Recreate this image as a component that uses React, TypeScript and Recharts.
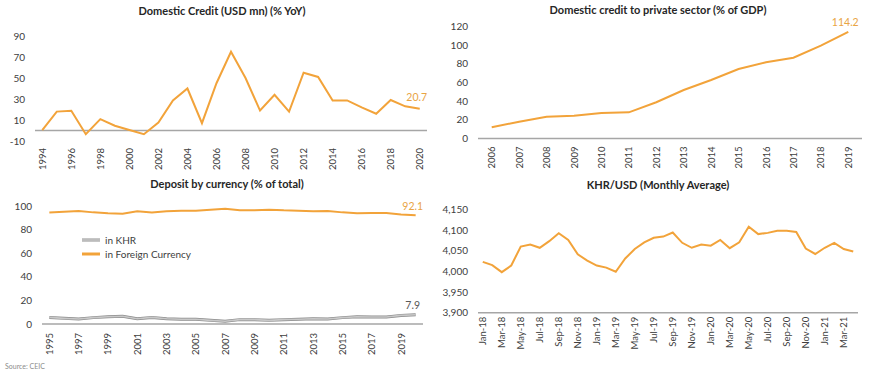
import React from 'react'
import {
  LineChart,
  Line,
  XAxis,
  YAxis,
  ReferenceLine,
  Legend,
} from 'recharts'

const ORANGE = '#F2A33A'
const ORANGE_LABEL = '#E9A443'
const GREY_AXIS = '#A6A6A6'
const TEXT = '#404040'
const FONT = 'Lato, "Open Sans", sans-serif'

// Domestic Credit (USD mn) (% YoY)
const creditYears = [
  '1994', '1995', '1996', '1997', '1998', '1999', '2000', '2001', '2002',
  '2003', '2004', '2005', '2006', '2007', '2008', '2009', '2010', '2011',
  '2012', '2013', '2014', '2015', '2016', '2017', '2018', '2019', '2020',
]
const creditYoY = [
  0.3, 18, 18.8, -3.5, 10.8, 4.5, 0.5, -3.5, 7.6, 28.6, 40, 7, 45, 75, 50,
  19, 34, 18, 55, 51, 28.6, 28.6, 22, 16, 29, 23, 20.7,
]
const creditTicks = [-10, 10, 30, 50, 70, 90]

// Domestic credit to private sector (% of GDP)
const privYears = [
  '2006', '2007', '2008', '2009', '2010', '2011', '2012', '2013', '2014',
  '2015', '2016', '2017', '2018', '2019',
]
const privCredit = [
  12, 18, 23.4, 24.5, 27.3, 28, 38.8, 52, 62.7, 74.5, 81.6, 86.6, 99.5, 114.2,
]
const privTicks = [0, 20, 40, 60, 80, 100, 120]

// Deposit by currency (% of total)
const depYears = [
  '1995', '1996', '1997', '1998', '1999', '2000', '2001', '2002', '2003',
  '2004', '2005', '2006', '2007', '2008', '2009', '2010', '2011', '2012',
  '2013', '2014', '2015', '2016', '2017', '2018', '2019', '2020',
]
const depForeign = [
  94.4, 95.2, 95.8, 94.6, 93.8, 93.5, 95.5, 94.4, 95.5, 96, 96, 96.9, 97.7,
  96.3, 96.3, 96.9, 96.3, 96, 95.5, 95.8, 94.6, 93.8, 94.1, 94.1, 92.7, 92.1,
]
const depKhr = [
  5.6, 4.8, 4.2, 5.4, 6.2, 6.5, 4.5, 5.6, 4.5, 4, 4, 3.1, 2.3, 3.7, 3.7, 3.1,
  3.7, 4, 4.5, 4.2, 5.4, 6.2, 5.9, 5.9, 7.3, 7.9,
]
const depTicks = [0, 20, 40, 60, 80, 100]

// KHR/USD (Monthly Average)
const fxMonths = [
  'Jan-18', 'Feb-18', 'Mar-18', 'Apr-18', 'May-18', 'Jun-18', 'Jul-18', 'Aug-18',
  'Sep-18', 'Oct-18', 'Nov-18', 'Dec-18', 'Jan-19', 'Feb-19', 'Mar-19', 'Apr-19',
  'May-19', 'Jun-19', 'Jul-19', 'Aug-19', 'Sep-19', 'Oct-19', 'Nov-19', 'Dec-19',
  'Jan-20', 'Feb-20', 'Mar-20', 'Apr-20', 'May-20', 'Jun-20', 'Jul-20', 'Aug-20',
  'Sep-20', 'Oct-20', 'Nov-20', 'Dec-20', 'Jan-21', 'Feb-21', 'Mar-21', 'Apr-21',
]
const fxRate = [
  4023, 4015, 3998, 4014, 4060, 4065, 4057, 4073, 4092, 4076, 4041, 4026,
  4014, 4009, 3999, 4031, 4054, 4070, 4081, 4084, 4094, 4069, 4057, 4065,
  4062, 4076, 4056, 4070, 4108, 4090, 4093, 4098, 4098, 4095, 4055, 4042,
  4057, 4069, 4054, 4048,
]
const fxTicks = [3900, 3950, 4000, 4050, 4100, 4150]

const creditData = creditYears.map((year, i) => ({ year, v: creditYoY[i] }))
const privData = privYears.map((year, i) => ({ year, v: privCredit[i] }))
const depData = depYears.map((year, i) => ({
  year,
  khr: depKhr[i],
  fx: depForeign[i],
}))
const fxData = fxMonths.map((m, i) => ({ m, v: fxRate[i] }))

function RotTick(props: any) {
  const { x, y, payload } = props
  return (
    <text
      x={x}
      y={y}
      transform={`rotate(-90, ${x}, ${y})`}
      textAnchor="end"
      dominantBaseline="central"
      fontSize={9.5}
      fill={TEXT}
    >
      {payload.value}
    </text>
  )
}

// label only on the last point of a series
function lastLabel(count: number, color: string, dy = -7) {
  return (props: any) => {
    const { x, y, index, value } = props
    if (index !== count - 1) return null
    return (
      <text
        key="last"
        x={x - 3}
        y={y + dy}
        textAnchor="middle"
        fontSize={10.5}
        fill={color}
      >
        {Number(value).toFixed(1)}
      </text>
    )
  }
}

function Title({ text, x, y }: { text: string; x: number; y: number }) {
  return (
    <div
      style={{
        position: 'absolute',
        left: x - 200,
        top: y - 8,
        width: 400,
        textAlign: 'center',
        fontSize: 11,
        fontWeight: 700,
        color: '#262626',
        lineHeight: '16px',
      }}
    >
      {text}
    </div>
  )
}

function DepositLegend() {
  const items = [
    { name: 'in KHR', color: '#C8C8C8', edge: '#8C8C8C' },
    { name: 'in Foreign Currency', color: ORANGE, edge: ORANGE },
  ]
  return (
    <div style={{ position: 'absolute', left: 82, top: -7 }}>
      {items.map((it) => (
        <div
          key={it.name}
          style={{
            display: 'flex',
            alignItems: 'center',
            height: 14,
            lineHeight: '14px',
            fontSize: 10,
            color: TEXT,
          }}
        >
          <svg width={20} height={6} style={{ marginRight: 3 }}>
            <line x1={0} y1={3} x2={18} y2={3} stroke={it.edge} strokeWidth={3} />
            <line x1={0} y1={3} x2={18} y2={3} stroke={it.color} strokeWidth={1.6} />
          </svg>
          {it.name}
        </div>
      ))}
    </div>
  )
}

const yTick = { fontSize: 10, fill: TEXT }

export default function App() {
  return (
    <div
      style={{
        position: 'absolute',
        left: 0,
        top: 0,
        width: 870,
        height: 378,
        background: '#fff',
        fontFamily: FONT,
      }}
    >
      <div style={{ position: 'absolute', left: 0, top: 0 }}>
        <LineChart
          width={435}
          height={180}
          data={creditData}
          margin={{ top: 36, right: 8, left: 0, bottom: 0 }}
        >
          <XAxis
            dataKey="year"
            scale="band"
            interval={1}
            axisLine={false}
            tickLine={false}
            tickSize={0}
            tickMargin={7}
            height={39}
            tick={<RotTick />}
          />
          <YAxis
            domain={[-10, 90]}
            ticks={creditTicks}
            width={35}
            axisLine={false}
            tickLine={false}
            tickSize={0}
            tickMargin={10}
            tick={yTick}
          />
          <ReferenceLine y={0} stroke={GREY_AXIS} strokeWidth={1.5} />
          <Line
            dataKey="v"
            stroke={ORANGE}
            strokeWidth={2}
            dot={false}
            isAnimationActive={false}
            label={lastLabel(creditData.length, ORANGE_LABEL, -8)}
          />
        </LineChart>
        <Title text="Domestic Credit (USD mn) (% YoY)" x={222} y={11} />
      </div>

      <div style={{ position: 'absolute', left: 435, top: 0 }}>
        <LineChart
          width={435}
          height={180}
          data={privData}
          margin={{ top: 26.5, right: 8, left: 0, bottom: 0 }}
        >
          <XAxis
            dataKey="year"
            scale="band"
            interval={0}
            axisLine={{ stroke: GREY_AXIS, strokeWidth: 1.5 }}
            tickLine={false}
            tickSize={0}
            tickMargin={8}
            height={41.5}
            tick={<RotTick />}
          />
          <YAxis
            domain={[0, 120]}
            ticks={privTicks}
            width={43}
            axisLine={false}
            tickLine={false}
            tickSize={0}
            tickMargin={10}
            tick={yTick}
          />
          <Line
            dataKey="v"
            stroke={ORANGE}
            strokeWidth={2}
            dot={false}
            isAnimationActive={false}
            label={lastLabel(privData.length, ORANGE_LABEL, -6)}
          />
        </LineChart>
        <Title text="Domestic credit to private sector (% of GDP)" x={223} y={10} />
      </div>

      <div style={{ position: 'absolute', left: 0, top: 170 }}>
        <LineChart
          width={435}
          height={200}
          data={depData}
          margin={{ top: 36, right: 12, left: 0, bottom: 0 }}
        >
          <XAxis
            dataKey="year"
            scale="band"
            interval={1}
            axisLine={{ stroke: GREY_AXIS, strokeWidth: 1.5 }}
            tickLine={false}
            tickSize={0}
            tickMargin={9}
            height={46}
            tick={<RotTick />}
          />
          <YAxis
            domain={[0, 100]}
            ticks={depTicks}
            width={42}
            axisLine={false}
            tickLine={false}
            tickSize={0}
            tickMargin={10}
            tick={yTick}
          />
          <Legend
            verticalAlign="top"
            content={() => (
              <div style={{ position: 'relative', height: 0 }}>
                <DepositLegend />
              </div>
            )}
            wrapperStyle={{ top: 70, left: 0, width: 300 }}
          />
          <Line
            dataKey="khr"
            stroke="#8C8C8C"
            strokeWidth={3}
            dot={false}
            legendType="none"
            isAnimationActive={false}
          />
          <Line
            dataKey="khr"
            name="in KHR"
            stroke="#C8C8C8"
            strokeWidth={1.6}
            dot={false}
            isAnimationActive={false}
            label={lastLabel(depData.length, '#595959', -6)}
          />
          <Line
            dataKey="fx"
            name="in Foreign Currency"
            stroke={ORANGE}
            strokeWidth={2}
            dot={false}
            isAnimationActive={false}
            label={lastLabel(depData.length, ORANGE_LABEL, -5)}
          />
        </LineChart>
        <Title text="Deposit by currency (% of total)" x={227} y={14} />
      </div>

      <div style={{ position: 'absolute', left: 435, top: 170 }}>
        <LineChart
          width={435}
          height={200}
          data={fxData}
          margin={{ top: 39.3, right: 12, left: 0, bottom: 0 }}
        >
          <XAxis
            dataKey="m"
            scale="band"
            interval={1}
            axisLine={{ stroke: GREY_AXIS, strokeWidth: 1.5 }}
            tickLine={false}
            tickSize={0}
            tickMargin={4}
            height={57.3}
            tick={<RotTick />}
          />
          <YAxis
            domain={[3900, 4150]}
            ticks={fxTicks}
            width={43}
            axisLine={false}
            tickLine={false}
            tickSize={0}
            tickMargin={10}
            tick={yTick}
            tickFormatter={(v: number) => v.toLocaleString('en-US')}
          />
          <Line
            dataKey="v"
            stroke={ORANGE}
            strokeWidth={2}
            dot={false}
            isAnimationActive={false}
          />
        </LineChart>
        <Title text="KHR/USD (Monthly Average)" x={223} y={15} />
      </div>

      <div
        style={{
          position: 'absolute',
          left: 5,
          top: 362,
          fontSize: 7,
          color: '#8C8C8C',
        }}
      >
        Source: CEIC
      </div>
    </div>
  )
}
